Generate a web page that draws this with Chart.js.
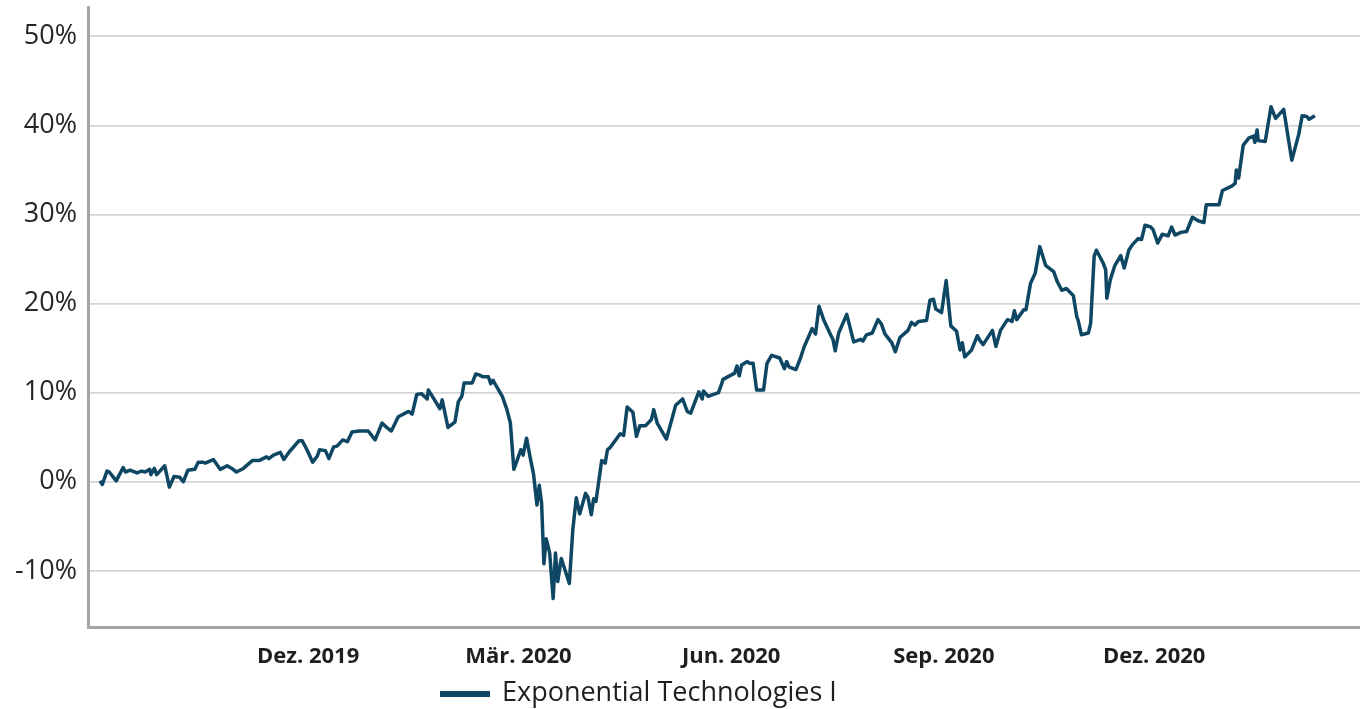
<!DOCTYPE html>
<html>
<head>
<meta charset="utf-8">
<script src="https://cdn.jsdelivr.net/npm/chart.js@4.4.1/dist/chart.umd.min.js"></script>
<style>
  html, body { margin: 0; padding: 0; background: #fff; }
</style>
</head>
<body>
<canvas id="perfChart" width="1360" height="709"></canvas>
<script>
// days since 1 Sep 2019, performance in %
const days = [1, 2, 4, 5, 8, 11, 12, 14, 17, 19, 20.5, 22.5, 23, 24.5, 25.5, 29, 31, 33, 35.5, 37,
  39, 42, 43.5, 45.5, 46.5, 50, 53, 56, 58, 60, 63, 67, 70, 71.5, 73, 74, 76, 79, 80.5, 83,
  87, 88.5, 90.5, 93, 95, 96, 98.5, 100, 102, 103.5, 106, 108, 110, 113, 117, 120, 123, 125, 127, 130,
  134.5, 136, 138, 140, 142.5, 143, 144.5, 148, 149, 151.5, 154.5, 156, 157.5, 158.5, 162, 163.5, 165, 166.5, 169, 170,
  171, 172.5, 175, 177, 178.5, 180, 181, 183, 184, 185.5, 187, 188.5, 190, 191, 192, 193, 194, 195.5, 197, 198,
  199, 200.5, 201.5, 204, 205.5, 207, 208.5, 211, 212, 213.5, 214.5, 215.5, 218, 219.5, 220.5, 221.5, 226, 227.5, 229, 231.5,
  233, 234.5, 237, 239.5, 240.5, 242, 246, 250, 253, 255, 256.5, 260, 261.5, 262, 264, 268.5, 269.5, 270.5, 275.5, 276.5,
  277.5, 278.5, 281, 282, 283.5, 285, 288, 289.5, 291.5, 295, 297, 298, 299, 302, 304, 305.5, 309, 310.5, 312, 314,
  317, 318, 319, 320.5, 324, 327, 330, 331, 332.5, 335, 337.5, 339, 340.5, 343.5, 345, 347, 350.5, 352, 353.5, 355,
  358.5, 360, 361.5, 362.5, 365, 367, 369, 371.5, 373, 374, 375, 378, 380.5, 381.5, 383, 387, 388.5, 390.5, 393.5, 395.5,
  396.5, 397.5, 400.5, 401.5, 403.5, 405.5, 407.5, 410, 413.5, 415, 417, 419, 422, 423.5, 424, 425.5, 428.5, 429.5, 431, 432,
  435, 436, 436.5, 438, 440, 442.5, 444, 446, 447.5, 450, 451.5, 453, 455.5, 456.5, 458.5, 460.5, 463, 464.5, 466, 468.5,
  471, 473.5, 476, 478.5, 479.5, 485, 486.5, 490.5, 492, 492.5, 493.5, 495.5, 498, 500, 500.5, 501.5, 502, 505, 507.5, 509.5,
  513, 516.5, 519.5, 521, 523, 524, 526.5];
const values = [0.1, -0.3, 1.2, 1.1, 0.1, 1.6, 1.1, 1.3, 1.0, 1.2, 1.1, 1.4, 0.8, 1.5, 0.8, 1.8, -0.6, 0.6, 0.5, 0.0,
  1.3, 1.4, 2.2, 2.2, 2.1, 2.5, 1.4, 1.8, 1.5, 1.1, 1.5, 2.4, 2.4, 2.6, 2.8, 2.6, 3.0, 3.3, 2.5, 3.4,
  4.6, 4.6, 3.6, 2.2, 2.9, 3.6, 3.5, 2.6, 3.9, 4.0, 4.7, 4.5, 5.6, 5.7, 5.7, 4.7, 6.6, 6.1, 5.7, 7.3,
  7.9, 7.6, 9.8, 9.9, 9.3, 10.3, 9.7, 8.2, 9.2, 6.1, 6.7, 9.0, 9.6, 11.1, 11.1, 12.1, 12.0, 11.8, 11.8, 11.0,
  11.4, 10.7, 9.6, 8.1, 6.6, 1.4, 2.1, 3.6, 3.0, 4.9, 2.8, 0.9, -2.6, -0.4, -2.4, -9.2, -6.4, -8.0, -13.1, -8.0,
  -11.2, -8.6, -9.4, -11.4, -5.4, -1.8, -3.6, -1.3, -1.7, -3.7, -1.9, -2.2, 2.4, 2.1, 3.6, 3.8, 5.4, 5.2, 8.4, 7.8,
  5.1, 6.3, 6.3, 7.0, 8.1, 6.6, 4.8, 8.6, 9.3, 7.9, 7.7, 10.1, 9.3, 10.2, 9.6, 10.0, 10.7, 11.5, 12.2, 13.0,
  11.9, 13.1, 13.5, 13.3, 13.3, 10.3, 10.3, 13.3, 14.2, 13.9, 12.7, 13.5, 12.9, 12.6, 13.9, 15.1, 17.2, 16.6, 19.7, 18.2,
  16.5, 16.0, 14.7, 16.7, 18.8, 15.7, 16.0, 15.8, 16.5, 16.7, 18.2, 17.7, 16.6, 15.6, 14.6, 16.2, 17.0, 17.9, 17.6, 18.0,
  18.1, 20.4, 20.5, 19.4, 19.0, 22.6, 17.5, 16.9, 14.8, 15.6, 14.0, 14.8, 16.4, 15.9, 15.4, 17.0, 15.2, 17.0, 18.2, 18.0,
  19.2, 18.2, 19.3, 19.3, 22.3, 23.4, 26.4, 24.3, 23.6, 22.5, 21.5, 21.7, 20.9, 18.5, 18.2, 16.5, 16.7, 17.8, 25.3, 26.0,
  24.5, 23.8, 20.6, 22.7, 24.3, 25.4, 24.0, 26.0, 26.6, 27.3, 27.2, 28.8, 28.6, 28.3, 26.8, 27.8, 27.6, 28.6, 27.7, 28.0,
  28.1, 29.7, 29.3, 29.1, 31.1, 31.1, 32.7, 33.2, 33.5, 35.0, 34.1, 37.8, 38.6, 38.8, 38.1, 39.5, 38.3, 38.2, 42.1, 40.8,
  41.8, 36.1, 39.0, 41.1, 41.0, 40.7, 41.1];

const tickDays = [91, 182, 274, 366, 457];
const tickLabels = ['Dez. 2019', 'Mär. 2020', 'Jun. 2020', 'Sep. 2020', 'Dez. 2020'];
const yTicks = [-10, 0, 10, 20, 30, 40, 50];
const seriesName = 'Exponential Technologies I';

const lineColor = '#0e4763';

// legend drawn by hand so it sits where the original has it
const legendPlugin = {
  id: 'legendLine',
  afterDraw(chart) {
    const ctx = chart.ctx;
    ctx.save();
    ctx.strokeStyle = lineColor;
    ctx.lineWidth = 6;
    ctx.beginPath();
    ctx.moveTo(440, 694);
    ctx.lineTo(490, 694);
    ctx.stroke();
    ctx.fillStyle = '#1f1f1f';
    ctx.font = '27px "Open Sans"';
    ctx.textBaseline = 'middle';
    ctx.fillText(seriesName, 502, 693);
    ctx.restore();
  }
};

new Chart(document.getElementById('perfChart'), {
  type: 'line',
  data: {
    datasets: [{
      label: seriesName,
      data: days.map((d, i) => ({ x: d, y: values[i] })),
      borderColor: lineColor,
      borderWidth: 3.5,
      pointRadius: 0,
      tension: 0,
      borderJoinStyle: 'round'
    }]
  },
  options: {
    responsive: false,
    animation: false,
    layout: { padding: { top: 7, right: 0, left: 0, bottom: 0 } },
    plugins: {
      legend: { display: false },
      tooltip: { enabled: false }
    },
    scales: {
      x: {
        type: 'linear',
        min: -4.2,
        max: 546,
        afterBuildTicks: axis => { axis.ticks = tickDays.map(v => ({ value: v })); },
        afterFit: axis => { axis.height = 82; axis.paddingLeft = 0; axis.paddingRight = 0; },
        ticks: {
          callback: v => tickLabels[tickDays.indexOf(v)],
          font: { family: '"Open Sans"', size: 22, weight: 'bold' },
          color: '#1f1f1f',
          padding: 9,
          maxRotation: 0,
          autoSkip: false
        },
        grid: { display: false },
        border: { display: true, color: '#a6a6a6', width: 3 }
      },
      y: {
        min: -16.3,
        max: 53.3,
        afterBuildTicks: axis => { axis.ticks = yTicks.map(v => ({ value: v })); },
        afterFit: axis => { axis.width = 88; axis.paddingTop = 0; axis.paddingBottom = 0; },
        ticks: {
          callback: v => v + '%',
          font: { family: '"Open Sans"', size: 27 },
          color: '#262626',
          padding: 11
        },
        grid: { color: '#d4d4d4', lineWidth: 1.8, drawTicks: false },
        border: { display: true, color: '#a6a6a6', width: 3 }
      }
    }
  },
  plugins: [legendPlugin]
});
</script>
</body>
</html>
